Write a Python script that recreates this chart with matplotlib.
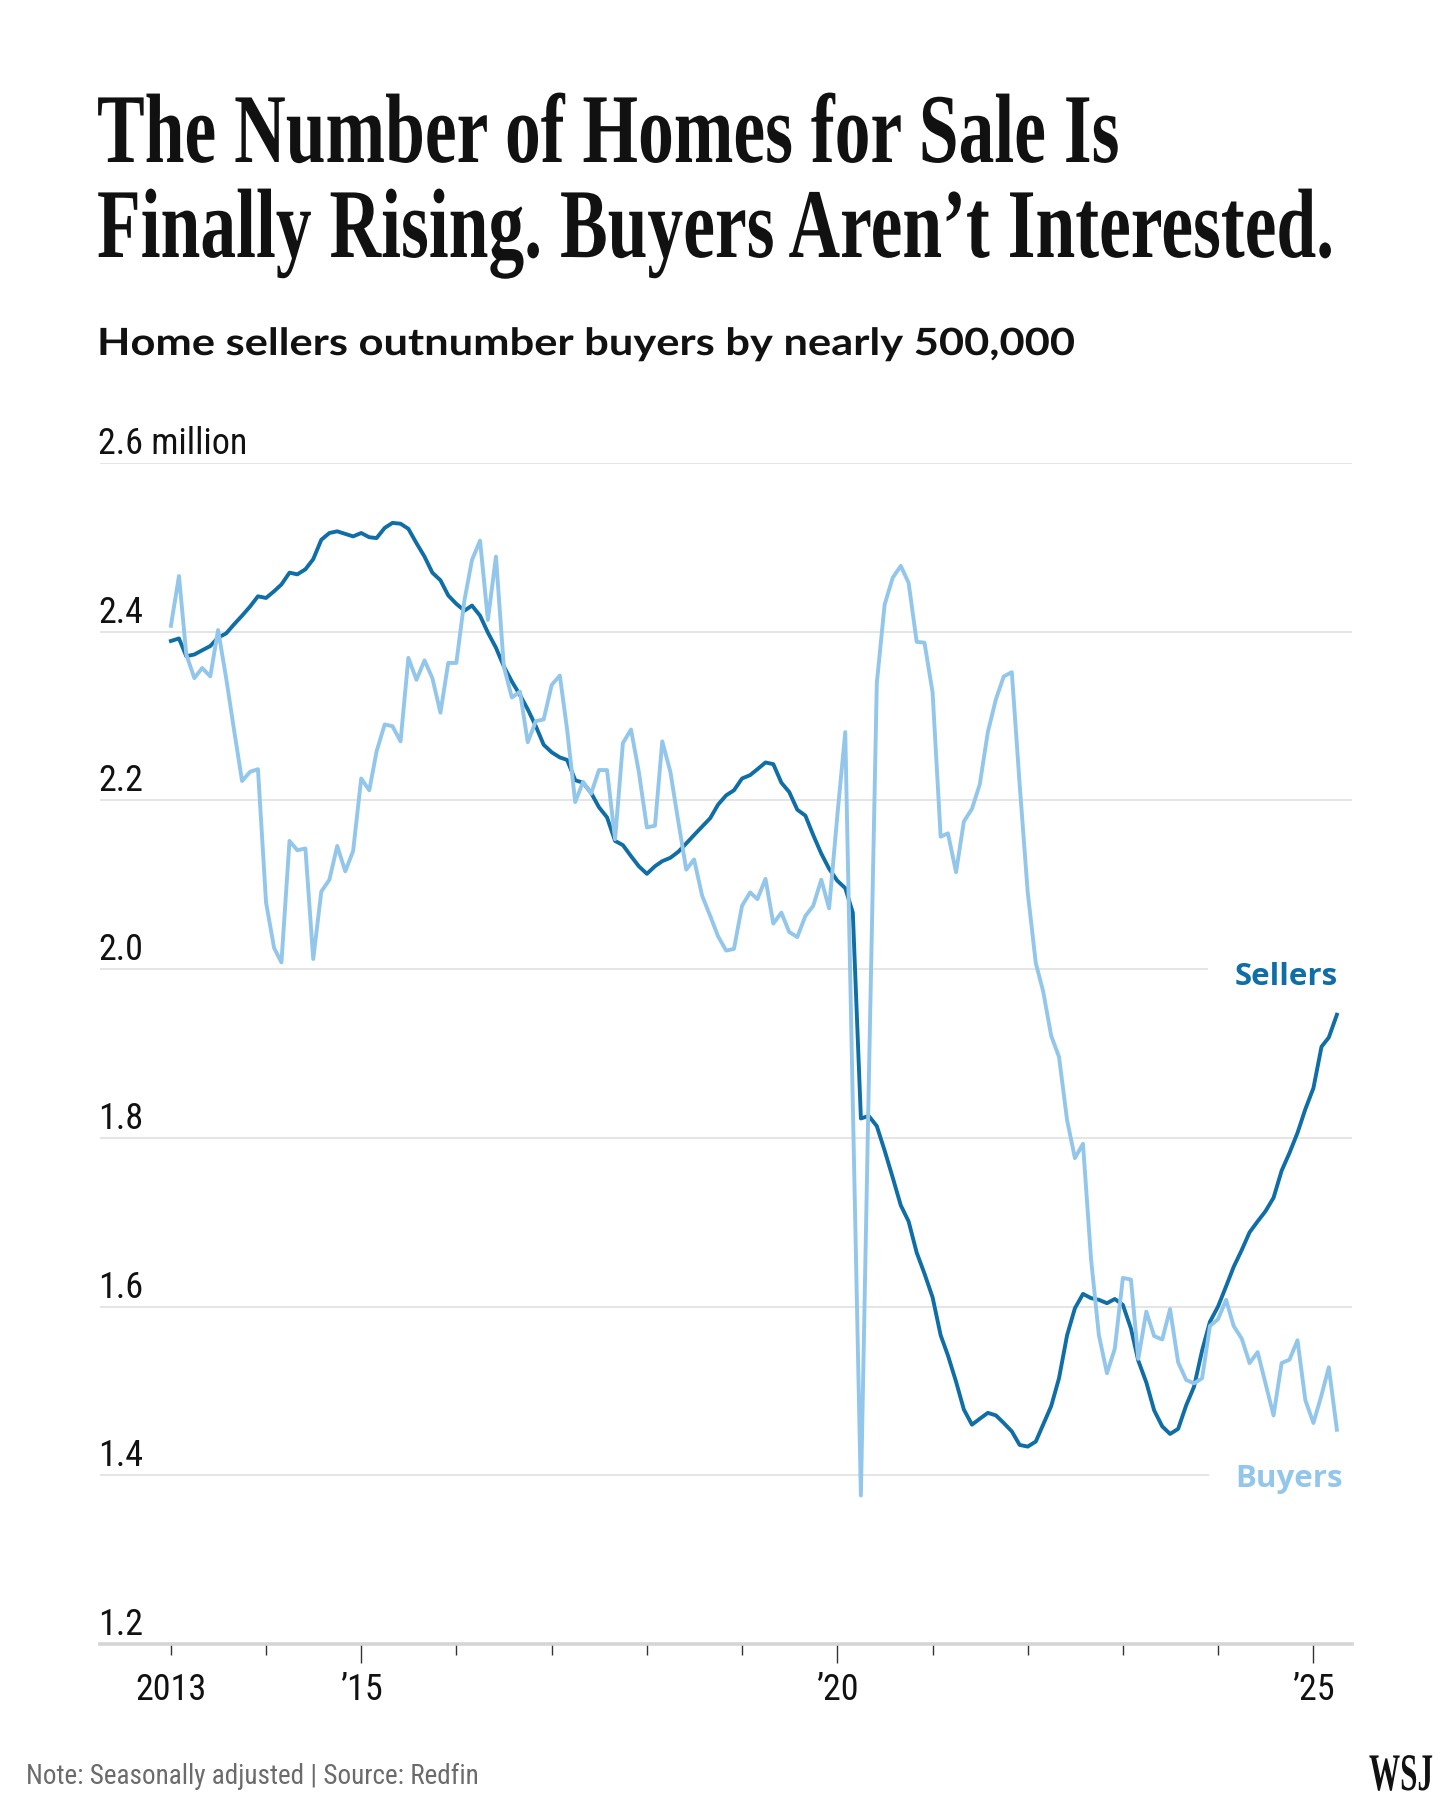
import matplotlib
matplotlib.use('Agg')
import matplotlib.pyplot as plt
import matplotlib.patheffects as pe
from matplotlib import font_manager as fm
from matplotlib.transforms import Affine2D, blended_transform_factory, offset_copy
import pandas as pd

# Monthly counts, millions, Jan 2013 - Apr 2025
months = pd.date_range('2013-01-01', periods=148, freq='MS')

sellers = [
    2.389, 2.392, 2.371, 2.373, 2.378, 2.383, 2.393, 2.398, 2.409, 2.419, 2.430, 2.442,  # 2013
    2.440, 2.448, 2.456, 2.470, 2.468, 2.474, 2.486, 2.509, 2.517, 2.519, 2.516, 2.513,  # 2014
    2.517, 2.512, 2.511, 2.523, 2.529, 2.528, 2.522, 2.505, 2.489, 2.470, 2.461, 2.443,  # 2015
    2.433, 2.425, 2.431, 2.419, 2.399, 2.381, 2.359, 2.341, 2.325, 2.308, 2.288, 2.266,  # 2016
    2.257, 2.251, 2.248, 2.224, 2.221, 2.209, 2.192, 2.180, 2.152, 2.147, 2.134, 2.122,  # 2017
    2.113, 2.122, 2.128, 2.132, 2.139, 2.149, 2.159, 2.169, 2.179, 2.195, 2.206, 2.212,  # 2018
    2.226, 2.230, 2.237, 2.245, 2.243, 2.221, 2.210, 2.189, 2.182, 2.159, 2.137, 2.119,  # 2019
    2.105, 2.096, 2.067, 1.823, 1.826, 1.814, 1.785, 1.753, 1.720, 1.701, 1.664, 1.639,  # 2020
    1.611, 1.566, 1.542, 1.511, 1.478, 1.460, 1.467, 1.474, 1.471, 1.462, 1.452, 1.436,  # 2021
    1.434, 1.440, 1.460, 1.482, 1.515, 1.566, 1.598, 1.615, 1.610, 1.608, 1.604, 1.609,  # 2022
    1.602, 1.574, 1.536, 1.510, 1.477, 1.458, 1.449, 1.455, 1.483, 1.505, 1.548, 1.582,  # 2023
    1.600, 1.624, 1.647, 1.667, 1.688, 1.701, 1.713, 1.729, 1.761, 1.782, 1.806, 1.834,  # 2024
    1.859, 1.908, 1.919, 1.946,                                                          # 2025
]

buyers = [
    2.407, 2.466, 2.373, 2.345, 2.357, 2.347, 2.402, 2.345, 2.282, 2.223, 2.234, 2.237,  # 2013
    2.079, 2.025, 2.008, 2.152, 2.141, 2.143, 2.012, 2.092, 2.106, 2.146, 2.116, 2.140,  # 2014
    2.226, 2.212, 2.258, 2.290, 2.288, 2.270, 2.369, 2.343, 2.366, 2.345, 2.304, 2.363,  # 2015
    2.363, 2.437, 2.485, 2.508, 2.414, 2.489, 2.359, 2.322, 2.329, 2.269, 2.294, 2.296,  # 2016
    2.337, 2.348, 2.284, 2.198, 2.222, 2.208, 2.236, 2.236, 2.154, 2.268, 2.284, 2.234,  # 2017
    2.168, 2.170, 2.270, 2.234, 2.176, 2.118, 2.130, 2.087, 2.063, 2.039, 2.022, 2.024,  # 2018
    2.075, 2.091, 2.083, 2.107, 2.054, 2.067, 2.044, 2.038, 2.063, 2.075, 2.106, 2.072,  # 2019
    2.180, 2.281, 1.840, 1.376, 1.860, 2.339, 2.432, 2.464, 2.478, 2.458, 2.388, 2.387,  # 2020
    2.328, 2.157, 2.161, 2.115, 2.175, 2.190, 2.219, 2.281, 2.320, 2.347, 2.352, 2.219,  # 2021
    2.091, 2.007, 1.974, 1.921, 1.896, 1.821, 1.776, 1.793, 1.656, 1.566, 1.521, 1.550,  # 2022
    1.634, 1.632, 1.538, 1.594, 1.565, 1.561, 1.597, 1.534, 1.513, 1.509, 1.515, 1.577,  # 2023
    1.585, 1.608, 1.577, 1.562, 1.533, 1.546, 1.509, 1.471, 1.533, 1.537, 1.560, 1.489,  # 2024
    1.462, 1.495, 1.528, 1.454,                                                          # 2025
]

ytick_vals = [1.2, 1.4, 1.6, 1.8, 2.0, 2.2, 2.4, 2.6]
ytick_text = ['1.2', '1.4', '1.6', '1.8', '2.0', '2.2', '2.4', '2.6 million']

years = list(range(2013, 2026))
long_years = [2015, 2020, 2025]
year_text = {2013: '2013', 2015: '\u201915', 2020: '\u201920', 2025: '\u201925'}

TITLE = ['The Number of Homes for Sale Is',
         'Finally Rising. Buyers Aren\u2019t Interested.']
SUBTITLE = 'Home sellers outnumber buyers by nearly 500,000'
NOTE = 'Note: Seasonally adjusted | Source: Redfin'

SELLERS_C = '#0f6ea6'
BUYERS_C = '#92c6ea'
INK = '#111111'

installed = {f.name for f in fm.fontManager.ttflist}


def pick(*names):
    for n in names:
        if n in installed:
            return n
    return 'DejaVu Sans'


SERIF = pick('Liberation Serif', 'DejaVu Serif')
NARROW = pick('Liberation Sans Narrow', 'Roboto Condensed', 'Liberation Sans')
LABEL = pick('Open Sans', 'Noto Sans', 'Lato')
SUB = pick('Lato', 'Open Sans', 'Noto Sans')

plt.rcParams['font.family'] = [NARROW, 'DejaVu Sans']


class Stretch(pe.AbstractPathEffect):
    """Scale glyphs vertically about the baseline (gives a condensed look)."""

    def __init__(self, sy):
        super().__init__()
        self.sy = sy

    def draw_path(self, renderer, gc, tpath, affine, rgbFace=None):
        renderer.draw_path(gc, tpath, Affine2D().scale(1.0, self.sy) + affine, rgbFace)


W, H = 1440, 1800
fig = plt.figure(figsize=(W / 100, H / 100), dpi=100)
renderer = fig.canvas.get_renderer()


def fit(texts, size, width_px):
    # shrink the size until the last line is width_px wide, then stretch it back up
    texts[-1].set_fontsize(size)
    k = width_px / texts[-1].get_window_extent(renderer).width
    for t in texts:
        t.set_fontsize(size * k)
        t.set_path_effects([Stretch(1 / k)])


# headline
t1 = fig.text(97 / W, 1 - 162 / H, TITLE[0], family=SERIF,
              weight='bold', color=INK, va='baseline')
t2 = fig.text(97 / W, 1 - 257 / H, TITLE[1], family=SERIF,
              weight='bold', color=INK, va='baseline')
fit([t1, t2], 71, 1237)

sub = fig.text(97 / W, 1 - 355 / H, SUBTITLE, family=SUB,
               weight='bold', color=INK, va='baseline')
fit([sub], 27, 977)

# chart
ax = fig.add_axes([100 / W, 1 - 1644 / H, 1252 / W, 1181 / H])

ax.plot(months, sellers, color=SELLERS_C, lw=2.8, solid_joinstyle='round', zorder=3)
ax.plot(months, buyers, color=BUYERS_C, lw=2.8, solid_joinstyle='round', zorder=4)

ax.set_ylim(1.2, 2.6)
ax.set_xlim(months[0] - pd.Timedelta(days=272), months[-1] + pd.Timedelta(days=58))

ax.set_yticks(ytick_vals)
ax.yaxis.grid(True, color='#dedede', lw=1.1)
ax.set_axisbelow(True)
ax.tick_params(axis='y', length=0, labelleft=False)

ytrans = offset_copy(blended_transform_factory(ax.transAxes, ax.transData),
                     fig=fig, x=-2, y=9, units='dots')
for v, t in zip(ytick_vals, ytick_text):
    ax.text(0, v, t, transform=ytrans, ha='left', va='baseline',
            fontsize=26, color=INK)

major = [pd.Timestamp(f'{y}-01-01') for y in years if y in long_years]
minor = [pd.Timestamp(f'{y}-01-01') for y in years if y not in long_years]
ax.set_xticks(major, [year_text[y] for y in long_years])
ax.set_xticks(minor, [year_text.get(y, '') for y in years if y not in long_years], minor=True)
ax.tick_params(axis='x', which='major', length=14, width=1, color='#333333',
               pad=6.5, labelsize=26, labelcolor=INK)
ax.tick_params(axis='x', which='minor', length=8, width=1, color='#333333',
               pad=12.5, labelsize=26, labelcolor=INK)

for s in ['top', 'left', 'right']:
    ax.spines[s].set_visible(False)
ax.spines['bottom'].set_color('#d5d5d5')
ax.spines['bottom'].set_linewidth(2.6)

box = dict(boxstyle='square,pad=0.85', facecolor='white', edgecolor='none')
ax.text(0.989, 0.558, 'Sellers', transform=ax.transAxes, ha='right', va='baseline',
        fontsize=22.5, family=LABEL, weight='bold', color=SELLERS_C, bbox=box, zorder=1)
ax.text(0.993, 0.133, 'Buyers', transform=ax.transAxes, ha='right', va='baseline',
        fontsize=22.5, family=LABEL, weight='bold', color=BUYERS_C, bbox=box, zorder=1)

# footer
fig.text(26 / W, 1 - 1784 / H, NOTE, fontsize=19.5, color='#6b6b6b', va='baseline')
logo = fig.text(1369 / W, 1 - 1790 / H, 'WSJ', family=SERIF,
                weight='bold', color=INK, va='baseline')
fit([logo], 38, 64)

fig.savefig('out.png', dpi=100)
